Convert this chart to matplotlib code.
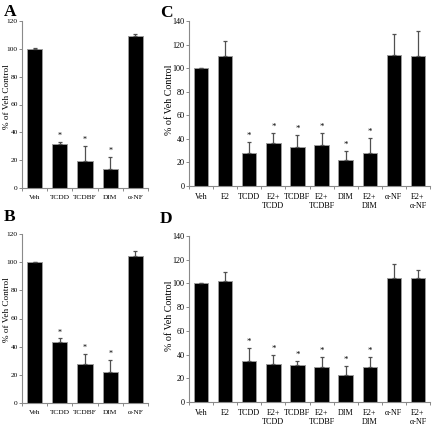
import matplotlib
matplotlib.use("Agg")
import matplotlib.pyplot as plt
import numpy as np

plt.rcParams['font.family'] = ['Liberation Serif', 'DejaVu Serif']

# ---- data ----
cats_ab = ["Veh", "TCDD", "TCDBF", "DIM", "α-NF"]
a_vals = [100, 31.4, 19.6, 13.8, 109.5]
a_errs = [0.5, 1.8, 10.5, 8.2, 1.0]
a_sig = [False, True, True, True, False]

b_vals = [100, 43.5, 27.5, 22.3, 104.5]
b_errs = [0.4, 2.3, 7.2, 7.9, 3.6]
b_sig = [False, True, True, True, False]

cats_cd = ["Veh", "E2", "TCDD", "E2+\nTCDD", "TCDBF", "E2+\nTCDBF", "DIM", "E2+\nDIM", "α-NF", "E2+\nα-NF"]
c_vals = [100, 110.3, 28.3, 36.6, 33.0, 34.8, 22.2, 27.9, 111.0, 110.3]
c_errs = [0.4, 13.0, 8.7, 8.0, 10.6, 10.3, 7.4, 12.5, 17.6, 21.0]
c_sig = [False, False, True, True, True, True, True, True, False, False]

d_vals = [100, 102.0, 34.7, 31.8, 30.9, 29.5, 23.0, 29.5, 104.4, 104.7]
d_errs = [0.4, 7.7, 10.6, 7.7, 3.9, 8.1, 7.0, 8.3, 12.0, 6.6]
d_sig = [False, False, True, True, True, True, True, True, False, False]

W, H = 433, 429
fig = plt.figure(figsize=(W / 100, H / 100), dpi=100)

def add_ax(left, right, top, bottom):
    return fig.add_axes([left / W, 1 - bottom / H, (right - left) / W, (bottom - top) / H])

GRAY = "#8a8a8a"

def panel(ax, cats, vals, errs, sig, ymax, fs_tick, fs_lab, lab_x, lab_y):
    n = len(cats)
    x = np.arange(n)
    ax.bar(x, vals, width=0.6, color="black", edgecolor="#9a9a9a", linewidth=0.7, zorder=2)
    ax.errorbar(x, vals, yerr=[np.zeros(n), errs], fmt="none", ecolor="#505050",
                elinewidth=0.9, capsize=1.3, capthick=0.9, zorder=3)
    for xi, v, e, s in zip(x, vals, errs, sig):
        if s:
            ax.annotate("*", (xi, v + e), xytext=(0, 1.5), textcoords="offset points",
                        ha="center", va="bottom", fontsize=fs_tick + 0.5)
    ax.set_xlim(-0.5, n - 0.5)
    ax.set_ylim(0, ymax)
    ax.set_yticks(np.arange(0, ymax + 1, 20))
    ax.set_xticks(x)
    ax.set_xticklabels(cats, fontsize=fs_tick, linespacing=1.1)
    ax.set_xticks(np.arange(-0.5, n, 1.0), minor=True)
    ax.tick_params(axis="x", which="major", length=0, pad=5)
    ax.tick_params(axis="x", which="minor", length=2, width=0.7, color=GRAY, direction="out")
    ax.tick_params(axis="y", length=2, width=0.7, color=GRAY, direction="out", labelsize=fs_tick, pad=1)
    for side in ("top", "right"):
        ax.spines[side].set_visible(False)
    for side in ("left", "bottom"):
        ax.spines[side].set_color(GRAY)
        ax.spines[side].set_linewidth(0.8)
    ax.set_ylabel("% of Veh Control", fontsize=fs_lab)
    ax.yaxis.set_label_coords(lab_x, lab_y)
    ax.yaxis.label.set_va("center")

axA = add_ax(22, 148, 21, 188)
panel(axA, cats_ab, a_vals, a_errs, a_sig, 120, 5.3, 6.6, -0.118, 0.55)
axB = add_ax(22, 148, 234, 403)
panel(axB, cats_ab, b_vals, b_errs, b_sig, 120, 5.3, 6.6, -0.118, 0.55)
axC = add_ax(189, 430, 21, 186)
panel(axC, cats_cd, c_vals, c_errs, c_sig, 140, 5.9, 7.2, -0.08, 0.52)
axD = add_ax(189, 430, 236, 402)
panel(axD, cats_cd, d_vals, d_errs, d_sig, 140, 5.9, 7.2, -0.08, 0.52)

for lab, xp, yp in [("A", 4, 4), ("B", 4, 209), ("C", 160, 5), ("D", 160, 211)]:
    fig.text(xp / W, 1 - yp / H, lab, fontsize=12.5, fontweight="bold", ha="left", va="top")

fig.savefig("out.png", dpi=100)
